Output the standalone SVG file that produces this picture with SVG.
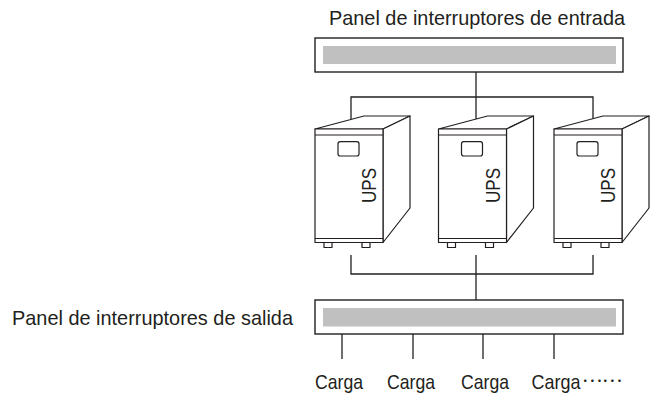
<svg xmlns="http://www.w3.org/2000/svg" width="651" height="399" viewBox="0 0 651 399">
<style>
.ln{fill:none;stroke:#231f20;stroke-width:1.3}
.box{fill:#fff;stroke:#231f20;stroke-width:1.4}
.bar{fill:#c0c0c0;stroke:none}
.ups{fill:#fff;stroke:#231f20;stroke-width:1.2;stroke-linejoin:round}
.t{font-family:"Liberation Sans Narrow","Liberation Sans",Arial,sans-serif;font-size:21px;fill:#231f20}
.u{font-family:"Liberation Sans",Arial,sans-serif;font-size:19.5px;fill:#231f20}
.dots{font-family:"Noto Sans CJK JP","Liberation Sans",sans-serif;font-size:19px;fill:#231f20}
</style>
<defs>
<g id="upsShape">
<polygon class="ups" points="0,129 49,116 95,116 68,129"/>
<polygon class="ups" points="68,129 95,116 95,208 68,242.5"/>
<rect class="ups" x="0" y="129" width="68" height="113.5"/>
<line class="ups" x1="0" y1="135" x2="68" y2="135"/>
<line class="ups" x1="0" y1="238.5" x2="68" y2="238.5"/>
<rect class="ups" x="23" y="141.7" width="21" height="14.3" rx="2.2"/>
<rect class="ups" x="9" y="242.5" width="8" height="5"/>
<rect class="ups" x="47" y="242.5" width="8" height="5"/>
</g>
</defs>

<g id="connectors">
<polyline class="ln" points="476,72 476,97"/>
<polyline class="ln" points="351,119 351,97 593,97 593,119"/>
<line class="ln" x1="476" y1="97" x2="476" y2="119"/>
<polyline class="ln" points="351,255 351,274 593,274 593,255"/>
<line class="ln" x1="476" y1="255" x2="476" y2="300"/>
<line class="ln" x1="342" y1="334" x2="342" y2="359"/>
<line class="ln" x1="413" y1="334" x2="413" y2="359"/>
<line class="ln" x1="483" y1="334" x2="483" y2="359"/>
<line class="ln" x1="554" y1="334" x2="554" y2="359"/>
</g>

<g id="panel-entrada">
<rect class="box" x="315" y="38" width="308" height="34"/>
<rect class="bar" x="323" y="46" width="293" height="18"/>
<text class="t" x="329" y="25" textLength="296" lengthAdjust="spacingAndGlyphs">Panel de interruptores de entrada</text>
</g>

<g id="ups1">
<use href="#upsShape" x="315"/>
<text class="u" transform="translate(376,185.5) rotate(-90)" text-anchor="middle" textLength="35" lengthAdjust="spacingAndGlyphs">UPS</text>
</g>
<g id="ups2">
<use href="#upsShape" x="438.5"/>
<text class="u" transform="translate(499.5,185.5) rotate(-90)" text-anchor="middle" textLength="35" lengthAdjust="spacingAndGlyphs">UPS</text>
</g>
<g id="ups3">
<use href="#upsShape" x="554"/>
<text class="u" transform="translate(615,185.5) rotate(-90)" text-anchor="middle" textLength="35" lengthAdjust="spacingAndGlyphs">UPS</text>
</g>

<g id="panel-salida">
<rect class="box" x="315" y="300" width="308" height="34"/>
<rect class="bar" x="323" y="308" width="293" height="18.5"/>
<text class="t" x="12" y="325" textLength="281" lengthAdjust="spacingAndGlyphs">Panel de interruptores de salida</text>
</g>

<g id="loads">
<text class="t" x="315" y="388.5" textLength="48" lengthAdjust="spacingAndGlyphs">Carga</text>
<text class="t" x="387" y="388.5" textLength="48" lengthAdjust="spacingAndGlyphs">Carga</text>
<text class="t" x="461" y="388.5" textLength="48" lengthAdjust="spacingAndGlyphs">Carga</text>
<text class="t" x="531.5" y="388.5"><tspan textLength="49" lengthAdjust="spacingAndGlyphs">Carga</tspan><tspan class="dots" x="582" y="381.5">……</tspan></text>
</g>
</svg>
